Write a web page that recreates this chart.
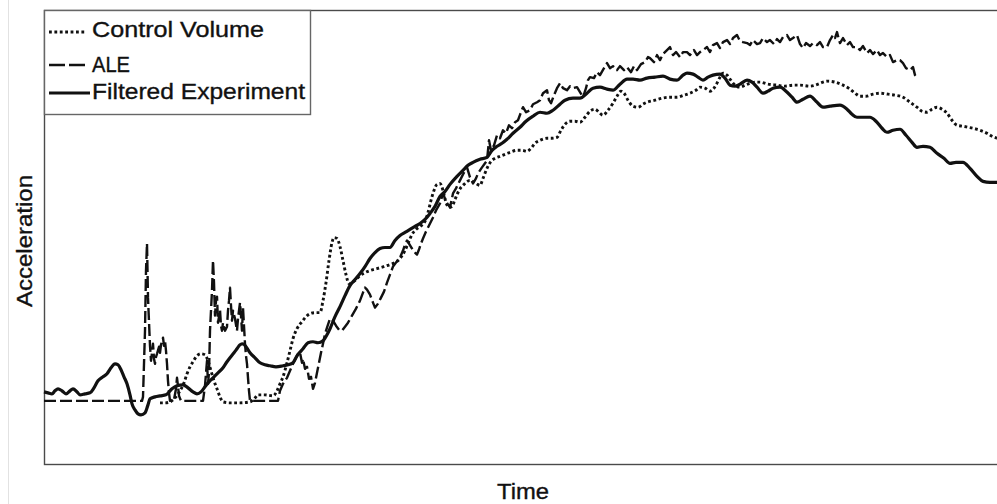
<!DOCTYPE html>
<html>
<head>
<meta charset="utf-8">
<script src="https://cdn.jsdelivr.net/npm/d3@7"></script>
<style>
  html, body { margin: 0; padding: 0; background: #fff; }
  svg { display: block; }
</style>
</head>
<body>
<svg id="root"></svg>
<script>
// time / acceleration samples (arbitrary units, no ticks on original)
const controlVolume = [
  [116,61],[121,61],[126,62],[131,66],[136,73],[140,81],[143,90],[146,97],[149,102],[153,108],
  [157,110],[161,109],[164,103],[167,93],[170,83],[173,75],[176,67],[179,62],[186,61],[196,61],
  [206,62],[211,66],[214,69],[221,69],[229,68],[233,73],[236,80],[239,87],[243,101],[246,113],
  [249,125],[253,135],[258,142],[262,147],[266,150],[271,151],[276,151],[279,163],[282,181],[285,203],
  [288,221],[290,226],[293,225],[296,217],[299,203],[302,189],[305,180],[308,181],[312,184],[316,188],
  [321,191],[326,193],[333,195],[340,197],[346,199],[351,201],[356,205],[361,213],[364,220],[368,229],
  [372,234],[376,237],[381,242],[384,251],[387,263],[390,273],[393,279],[396,280],[399,273],[402,261],
  [405,256],[408,257],[411,264],[415,273],[420,279],[426,283],[432,280],[436,278],[439,285],[443,295],
  [447,302],[451,305],[456,307],[461,309],[466,311],[473,313],[478,313],[483,312],[487,315],[491,320],
  [496,323],[503,325],[508,325],[513,326],[517,333],[521,339],[526,342],[531,342],[536,341],[541,346],
  [546,352],[551,354],[555,351],[559,348],[564,353],[569,360],[573,367],[577,372],[580,370],[584,363],
  [589,357],[594,356],[599,359],[603,361],[611,363],[618,365],[626,366],[633,366],[640,368],[646,370],
  [652,373],[656,376],[661,375],[666,372],[670,375],[673,380],[676,386],[679,390],[683,388],[686,384],
  [691,378],[696,376],[701,378],[706,380],[711,381],[716,381],[724,379],[733,378],[741,377],[749,378],
  [756,378],[766,377],[774,379],[779,381],[784,382],[791,381],[799,378],[806,374],[811,370],[816,367],
  [822,367],[829,369],[836,370],[844,369],[851,368],[859,366],[866,361],[873,356],[878,352],[883,351],
  [888,354],[893,356],[898,354],[903,350],[908,343],[913,338],[919,337],[924,336],[929,335],[936,333],
  [943,330],[948,327],[953,325]
];

const ale = [
  [0,63],[98,63],[99,67],[101,133],[102,193],[103,220],[104,166],[106,118],[107,103],[108,111],
  [109,120],[110,105],[111,100],[112,107],[113,110],[115,117],[116,111],[117,119],[119,126],[120,118],
  [121,123],[122,113],[123,100],[124,83],[125,71],[126,63],[130,64],[132,75],[133,86],[134,78],
  [135,68],[137,63],[159,63],[161,78],[163,103],[164,80],[165,91],[166,133],[168,173],[169,203],
  [170,181],[171,148],[172,163],[173,167],[174,141],[175,147],[176,154],[177,138],[178,133],[179,141],
  [181,133],[183,137],[184,153],[185,163],[186,176],[187,158],[188,143],[189,153],[191,145],[193,133],
  [194,145],[196,161],[197,148],[198,133],[199,156],[200,138],[201,120],[202,108],[203,100],[204,86],
  [205,73],[206,63],[234,63],[236,73],[239,80],[243,86],[246,93],[249,100],[252,106],[254,110],
  [256,111],[258,101],[259,105],[261,95],[263,97],[265,85],[267,87],[269,75],[271,81],[273,91],
  [275,101],[277,111],[279,120],[281,130],[283,136],[286,145],[289,143],[292,138],[295,134],[298,133],
  [301,137],[304,141],[308,148],[312,155],[316,163],[319,171],[321,176],[323,174],[326,169],[329,161],
  [331,156],[334,160],[337,166],[340,172],[343,181],[346,189],[349,197],[352,201],[356,206],[359,213],
  [361,219],[363,223],[365,220],[368,215],[371,211],[373,209],[375,214],[377,220],[379,225],[382,232],
  [384,236],[387,242],[389,246],[392,253],[396,260],[399,270],[402,262],[406,256],[409,270],[412,275],
  [416,283],[419,289],[423,296],[426,286],[429,280],[432,285],[434,290],[438,296],[441,300],[443,303],
  [445,323],[447,313],[450,318],[453,328],[456,325],[459,333],[462,330],[465,338],[468,335],[471,341],
  [474,343],[477,351],[479,356],[482,351],[486,353],[489,359],[493,361],[496,363],[499,370],[503,373],
  [505,363],[507,360],[510,368],[513,375],[516,380],[519,375],[523,373],[526,377],[529,375],[533,376],
  [536,371],[539,366],[542,375],[544,383],[546,386],[550,385],[553,391],[556,388],[560,395],[563,400],
  [566,395],[569,397],[573,393],[576,397],[580,393],[583,396],[587,391],[590,397],[593,393],[597,399],
  [601,401],[604,406],[606,405],[610,401],[613,408],[616,403],[619,409],[623,413],[626,416],[629,408],
  [632,411],[636,406],[639,411],[643,411],[646,408],[650,413],[653,408],[656,411],[659,413],[663,416],
  [666,411],[669,418],[673,420],[676,415],[679,421],[683,423],[686,419],[689,425],[693,428],[696,422],
  [699,421],[703,420],[706,418],[709,423],[713,419],[716,420],[719,425],[723,421],[726,423],[730,419],
  [733,424],[736,421],[739,426],[743,428],[746,423],[749,425],[753,428],[756,419],[759,415],[762,420],
  [766,417],[769,420],[773,418],[776,421],[779,416],[783,416],[786,423],[789,428],[791,425],[793,431],
  [795,423],[796,420],[799,425],[803,418],[806,421],[809,416],[813,416],[816,413],[819,417],[823,410],
  [826,413],[829,409],[833,413],[836,408],[839,410],[843,406],[846,408],[849,401],[853,403],[856,403],
  [859,400],[862,395],[866,393],[869,396],[871,388],[873,386]
];

const filteredExperiment = [
  [0,72],[4,71],[8,70],[11,73],[14,75],[18,73],[22,70],[26,73],[29,75],[33,72],
  [36,69],[41,70],[46,71],[50,76],[54,83],[59,87],[63,90],[67,96],[71,100],[74,99],
  [77,94],[80,87],[83,80],[86,69],[88,60],[91,54],[94,50],[97,49],[101,51],[104,59],
  [106,65],[111,67],[116,68],[122,69],[128,75],[133,78],[139,79],[144,76],[149,72],[153,70],
  [157,72],[161,77],[165,82],[169,86],[174,91],[179,96],[183,102],[186,106],[190,111],[193,115],
  [196,119],[199,120],[202,117],[206,111],[211,106],[216,101],[221,99],[226,98],[232,97],[239,98],
  [244,99],[249,101],[253,108],[259,115],[264,121],[269,122],[274,121],[279,123],[283,129],[286,135],
  [291,147],[296,157],[301,168],[306,178],[311,184],[316,190],[321,197],[326,205],[331,211],[336,215],
  [341,216],[346,216],[351,223],[356,228],[361,231],[366,234],[371,237],[376,240],[381,244],[386,250],
  [391,257],[396,267],[401,272],[406,279],[413,287],[419,293],[424,298],[429,301],[436,304],[443,306],
  [448,313],[453,317],[458,320],[463,324],[469,330],[476,336],[482,342],[489,347],[496,351],[503,350],
  [509,353],[516,359],[521,363],[529,365],[536,365],[543,370],[549,375],[556,376],[563,374],[569,373],
  [576,379],[583,384],[589,384],[596,383],[603,385],[611,386],[619,387],[626,384],[633,383],[639,388],
  [643,390],[649,389],[654,386],[659,383],[664,386],[669,388],[676,389],[681,385],[686,378],[691,377],
  [696,379],[703,383],[708,381],[713,376],[719,370],[724,372],[729,375],[736,376],[742,372],[748,366],
  [753,361],[759,364],[766,367],[772,362],[779,356],[786,357],[796,358],[803,354],[808,349],[813,346],
  [820,346],[826,346],[832,342],[838,335],[843,331],[849,333],[856,334],[862,328],[868,321],[873,316],
  [879,317],[886,316],[893,310],[900,305],[906,300],[912,301],[919,301],[926,295],[933,287],[939,282],
  [946,281],[953,281]
];

const seriesNames = ["Control Volume", "ALE", "Filtered Experiment"];
const timeDomain = [0, 955];
const accelDomain = [0, 453];

const width = 997,
  height = 504;
const margin = { top: 10, right: -2, bottom: 40, left: 44 };
const font = "Liberation Sans, Arial, sans-serif";

const svg = d3
  .select("svg#root")
  .attr("width", width)
  .attr("height", height)
  .attr("viewBox", [0, 0, width, height]);

svg.append("rect").attr("width", width).attr("height", height).attr("fill", "#fff");

const x = d3
  .scaleLinear()
  .domain(timeDomain)
  .range([margin.left, width - margin.right]);
const y = d3
  .scaleLinear()
  .domain(accelDomain)
  .range([height - margin.bottom, margin.top]);

// faint scan edge on the far left of the original
svg
  .append("line")
  .attr("x1", 8.5)
  .attr("x2", 8.5)
  .attr("y1", 0)
  .attr("y2", height)
  .attr("stroke", "#e2e2e2")
  .attr("stroke-width", 1);

// frame
svg
  .append("rect")
  .attr("x", x(timeDomain[0]) + 0.5)
  .attr("y", y(accelDomain[1]) + 0.5)
  .attr("width", x(timeDomain[1]) - x(timeDomain[0]))
  .attr("height", y(accelDomain[0]) - y(accelDomain[1]))
  .attr("fill", "none")
  .attr("stroke", "#4a4a4a")
  .attr("stroke-width", 1.4);

const styles = {
  "Control Volume": { dash: "2.8,2.6", width: 2.9, curve: d3.curveMonotoneX },
  ALE: { dash: "12,4", width: 2.4, curve: d3.curveLinear },
  "Filtered Experiment": { dash: null, width: 3.2, curve: d3.curveMonotoneX },
};
const seriesData = [controlVolume, ale, filteredExperiment];

const plot = svg.append("g");
seriesNames.forEach((name, i) => {
  const s = styles[name];
  const line = d3
    .line()
    .x((d) => x(d[0]))
    .y((d) => y(d[1]))
    .curve(s.curve);
  plot
    .append("path")
    .datum(seriesData[i])
    .attr("d", line)
    .attr("fill", "none")
    .attr("stroke", "#111")
    .attr("stroke-width", s.width)
    .attr("stroke-linejoin", "round")
    .attr("stroke-dasharray", s.dash);
});

// legend
const legend = svg.append("g");
legend
  .append("rect")
  .attr("x", 44.5)
  .attr("y", 10.5)
  .attr("width", 266)
  .attr("height", 104)
  .attr("fill", "#fff")
  .attr("stroke", "#666")
  .attr("stroke-width", 1.4);

const legendRows = [
  { y: 32, base: 37, len: 172, x2: 86, dash: "2.8,2.6" },
  { y: 65, base: 72, len: 38, x2: 89, dash: "16,4" },
  { y: 93, base: 99, len: 213, x2: 90, dash: null },
];
legendRows.forEach((r, i) => {
  legend
    .append("line")
    .attr("x1", 49)
    .attr("x2", r.x2)
    .attr("y1", r.y)
    .attr("y2", r.y)
    .attr("stroke", "#111")
    .attr("stroke-width", styles[seriesNames[i]].width)
    .attr("stroke-dasharray", r.dash);
  legend
    .append("text")
    .attr("x", 92)
    .attr("y", r.base)
    .attr("font-family", font)
    .attr("font-size", "21.5px")
    .attr("fill", "#111")
    .attr("stroke", "#111")
    .attr("stroke-width", 0.35)
    .attr("textLength", r.len)
    .attr("lengthAdjust", "spacingAndGlyphs")
    .text(seriesNames[i]);
});

// axis titles
svg
  .append("text")
  .attr("x", 523)
  .attr("y", 499)
  .attr("text-anchor", "middle")
  .attr("font-family", font)
  .attr("font-size", "21.5px")
  .attr("fill", "#111")
  .attr("stroke", "#111")
  .attr("stroke-width", 0.35)
  .attr("textLength", 52)
  .attr("lengthAdjust", "spacingAndGlyphs")
  .text("Time");

svg
  .append("text")
  .attr("transform", "translate(32,241) rotate(-90)")
  .attr("text-anchor", "middle")
  .attr("font-family", font)
  .attr("font-size", "21.5px")
  .attr("fill", "#111")
  .attr("stroke", "#111")
  .attr("stroke-width", 0.35)
  .attr("textLength", 132)
  .attr("lengthAdjust", "spacingAndGlyphs")
  .text("Acceleration");
</script>
</body>
</html>
